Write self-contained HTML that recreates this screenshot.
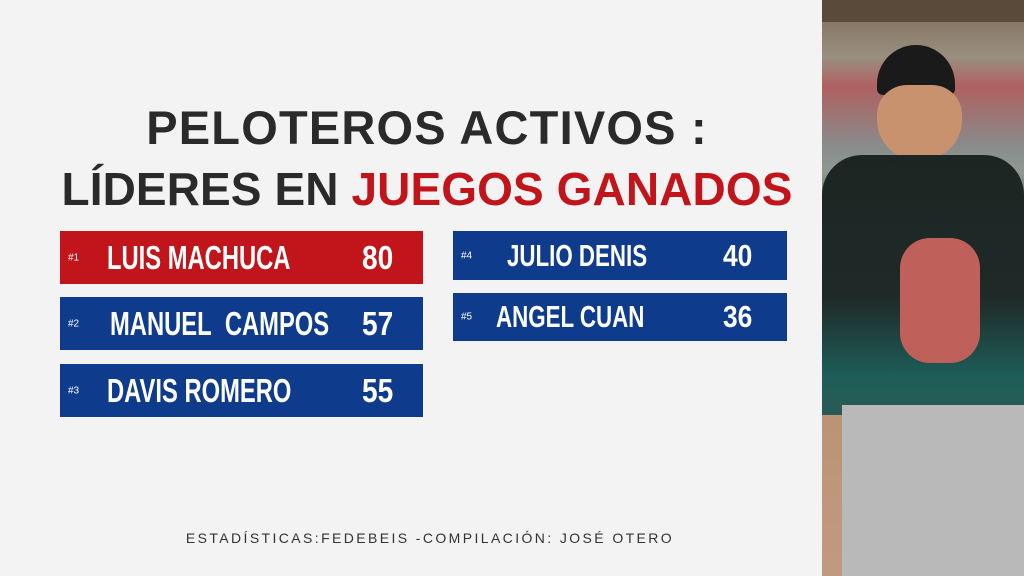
<!DOCTYPE html>
<html><head><meta charset="utf-8"><style>
body{margin:0;width:1024px;height:576px;overflow:hidden;background:#f3f3f3;font-family:"Liberation Sans",sans-serif;position:relative}
.t{position:absolute;left:0;width:854px;text-align:center;font-weight:bold;color:#2a2a2a;line-height:1;white-space:nowrap}
.b{position:absolute;color:#fff;font-weight:bold}
.b .n{position:absolute;font-size:10px;font-weight:normal;top:50%;transform:translateY(-50%);left:8px}
.b .nm{position:absolute;top:50%;font-size:33px;transform:translateY(-50%) scaleX(0.72);transform-origin:left center;white-space:nowrap}
.b .v{position:absolute;top:50%;font-size:33px;transform:translateY(-50%) scaleX(0.85);transform-origin:left center}
.red{background:#c1151b}.blue{background:#0f3b8c}
</style></head><body>
<div class="t" style="top:104px;font-size:47px;letter-spacing:1.2px">PELOTEROS ACTIVOS :</div>
<div class="t" style="top:166px;font-size:46px;letter-spacing:0.1px">LÍDERES EN <span style="color:#c1151b">JUEGOS GANADOS</span></div>

<div class="b red" style="left:60px;top:231px;width:363px;height:53px"><span class="n">#1</span><span class="nm" style="left:47px">LUIS MACHUCA</span><span class="v" style="left:302px">80</span></div>
<div class="b blue" style="left:60px;top:297px;width:363px;height:53px"><span class="n">#2</span><span class="nm" style="left:50px">MANUEL&nbsp; CAMPOS</span><span class="v" style="left:302px">57</span></div>
<div class="b blue" style="left:60px;top:364px;width:363px;height:53px"><span class="n">#3</span><span class="nm" style="left:47px">DAVIS ROMERO</span><span class="v" style="left:302px">55</span></div>
<div class="b blue" style="left:453px;top:231px;width:334px;height:49px"><span class="n">#4</span><span class="nm" style="left:54px;font-size:31px">JULIO DENIS</span><span class="v" style="left:270px;font-size:31px">40</span></div>
<div class="b blue" style="left:453px;top:293px;width:334px;height:48px"><span class="n">#5</span><span class="nm" style="left:43px;font-size:31px">ANGEL CUAN</span><span class="v" style="left:270px;font-size:31px">36</span></div>

<div style="position:absolute;left:0;width:860px;text-align:center;top:530px;font-size:14px;letter-spacing:2.4px;color:#333;white-space:nowrap">ESTADÍSTICAS:FEDEBEIS -COMPILACIÓN: JOSÉ OTERO</div>

<div style="position:absolute;left:822px;top:0;width:202px;height:576px;overflow:hidden;background:linear-gradient(#7a6a55 0,#9a8f80 10%,#b06060 15%,#8a8a8a 25%,#8e9a92 30%,#5a7a60 35%,#b88a6a 40%,#c09a80 100%)">
 <div style="position:absolute;left:0;top:0;width:202px;height:22px;background:#5a4a3a"></div>
 <div style="position:absolute;left:55px;top:45px;width:78px;height:50px;background:#1a1a1a;border-radius:40px 40px 6px 6px"></div>
 <div style="position:absolute;left:55px;top:85px;width:85px;height:75px;background:#c9926f;border-radius:30px 30px 40px 40px"></div>
 <div style="position:absolute;left:0;top:155px;width:202px;height:260px;background:linear-gradient(#1d2523 0,#1f2a28 55%,#1d5d58 85%,#2a5a55 100%);border-radius:40px 40px 0 0"></div>
 <div style="position:absolute;left:20px;top:405px;width:182px;height:171px;background:#b9b9b9"></div>
 <div style="position:absolute;left:78px;top:238px;width:80px;height:125px;background:#c0605a;border-radius:30px"></div>
</div>
</body></html>
